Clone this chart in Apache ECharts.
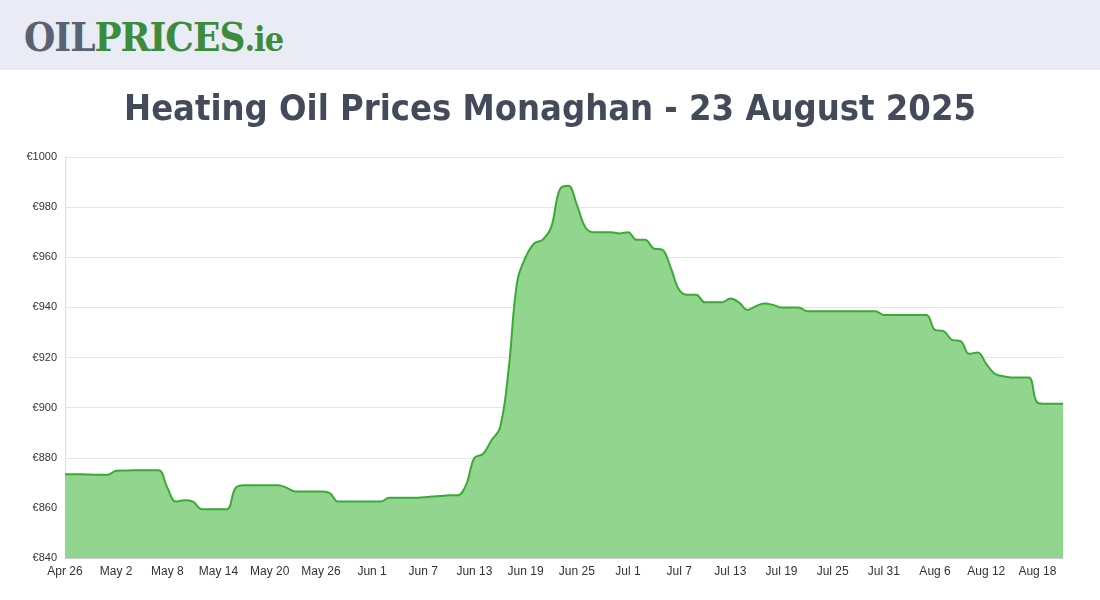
<!DOCTYPE html>
<html><head><meta charset="utf-8">
<script src="https://cdn.jsdelivr.net/npm/echarts@6/dist/echarts.min.js"></script>
<style>
body{margin:0;background:#fff;font-family:"DejaVu Sans",sans-serif}
#hdr{height:70px;background:#e9ecf4;position:relative;box-shadow:0 2px 4px rgba(0,0,0,0.08)}
#logo{position:absolute;left:24px;top:13px;font-family:"DejaVu Serif Condensed","DejaVu Serif",serif;font-weight:bold;font-size:40px;letter-spacing:-1px}
#chart{position:absolute;left:0;top:70px;width:1100px;height:530px}
</style></head><body>
<div id="hdr"><div id="logo"><span style="color:#5a6272">OIL</span><span style="color:#3d8b3d">PRICES</span><span style="color:#3d8b3d;font-size:34px">.ie</span></div></div>
<div id="chart"></div>
<script>
const startDate = [2025, 3, 26];
const prices = [
873.4,873.4,873.4,873.3,873.2,873.2,874.8,874.9,875,875,875,875,
868,862.5,863,862.5,859.5,859.5,859.5,859.5,868,869,869,869,869,869,868,866.5,866.5,866.5,866.5,866,
862.5,862.5,862.5,862.5,862.5,862.5,864,864,864,864,864.2,864.5,864.7,865,865,869,
880,881.5,887,892,915,950,960,965.5,967,972,987,988.5,981,972,970,970,970,969.5,970,967,967,963.5,963,956,947,945,945,942,942,942,943.5,942,939,940.5,941.5,941,940,940,940,
938.5,938.5,938.5,938.5,938.5,938.5,938.5,938.5,938.5,937,937,937,937,937,937,931,930.5,927,926.5,921.5,922,917.5,913.5,912.5,912,912,912,902,901.5,901.5,901.5
];
const months=["Jan","Feb","Mar","Apr","May","Jun","Jul","Aug","Sep","Oct","Nov","Dec"];
const cats=prices.map((_,i)=>{const d=new Date(startDate[0],startDate[1],startDate[2]+i);return months[d.getMonth()]+" "+d.getDate();});
const c=echarts.init(document.getElementById('chart'));
c.setOption({
 title:{text:"Heating Oil Prices Monaghan - 23 August 2025",left:'center',top:18,textStyle:{fontFamily:"DejaVu Sans Condensed",fontWeight:'bold',fontSize:36,color:'#434b5b'}},
 grid:{left:65,right:37,top:87,bottom:42},
 xAxis:{type:'category',data:cats,boundaryGap:false,axisLine:{lineStyle:{color:'#ccc'}},axisTick:{show:false},
   axisLabel:{interval:5,color:'#333',fontSize:12,fontFamily:'Liberation Sans'},splitLine:{show:false}},
 yAxis:{type:'value',min:840,max:1000,interval:20,axisLabel:{formatter:v=>'€'+v,color:'#333',fontSize:11,fontFamily:'Liberation Sans'},
   axisLine:{show:true,lineStyle:{color:'#ddd'}},splitLine:{lineStyle:{color:'#e5e5e5'}}},
 series:[{type:'line',data:prices,smooth:0.4,symbol:'none',lineStyle:{color:'#3aaa35',width:2},areaStyle:{color:'#91d58e',opacity:1}}]
});
</script></body></html>
